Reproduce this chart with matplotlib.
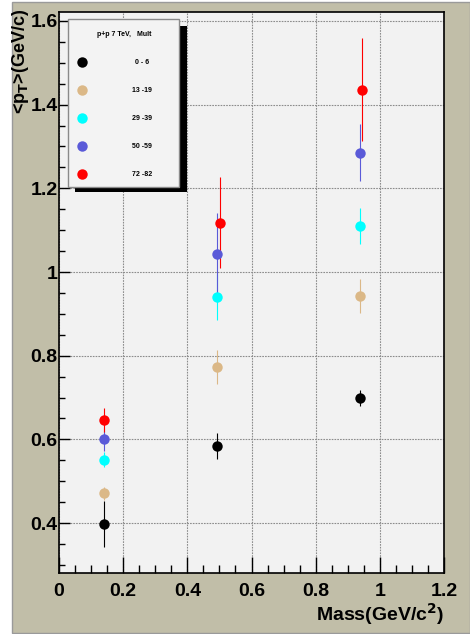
import matplotlib
matplotlib.use('Agg')
import matplotlib.pyplot as plt
from matplotlib.patches import Rectangle
from matplotlib.ticker import MultipleLocator

plt.rcParams['font.family'] = ['Liberation Sans', 'DejaVu Sans']
plt.rcParams['font.weight'] = 'bold'
plt.rcParams['mathtext.default'] = 'bf'

# Masses of pi, K, p (GeV/c^2); highest multiplicity class is drawn slightly shifted
masa = [0.1396, 0.4937, 0.9383]
masa_red = [0.1396, 0.503, 0.943]

clases = ['0 - 6', '13 -19', '29 -39', '50 -59', '72 -82']
colores = ['#000000', '#dbb887', '#00ffff', '#5a5ad8', '#ff0000']

pt_0_6 = [0.398, 0.584, 0.699]
err_0_6 = [0.055, 0.030, 0.019]
pt_13_19 = [0.471, 0.773, 0.943]
err_13_19 = [0.015, 0.040, 0.041]
pt_29_39 = [0.551, 0.940, 1.110]
err_29_39 = [0.018, 0.055, 0.043]
pt_50_59 = [0.600, 1.043, 1.285]
err_50_59 = [0.028, 0.098, 0.068]
pt_72_82 = [0.646, 1.118, 1.436]
err_72_82 = [0.028, 0.108, 0.124]

series = [
    (masa, pt_0_6, err_0_6),
    (masa, pt_13_19, err_13_19),
    (masa, pt_29_39, err_29_39),
    (masa, pt_50_59, err_50_59),
    (masa_red, pt_72_82, err_72_82),
]

W, H = 470, 634
fig = plt.figure(figsize=(W / 100, H / 100), dpi=100, facecolor='white')


def px(x, y):
    # pixel coords (from top-left) -> figure fraction
    return x / W, 1 - y / H


# tan canvas background
fig.patches.append(Rectangle(px(12, 633), (W - 12) / W, 631 / H, transform=fig.transFigure,
                             facecolor='#c1bea8', edgecolor='#9a9a9a', lw=1, zorder=-5))

ax = fig.add_axes([59 / W, 1 - 573 / H, 385 / W, 561 / H])
ax.set_facecolor('#f2f2f2')

for (xs, ys, es), c in zip(series, colores):
    ax.errorbar(xs, ys, yerr=es, fmt='o', color=c, ecolor=c, ms=7.5, mew=0,
                elinewidth=0.8, capsize=2.5, capthick=0.8)

ax.set_xlim(0, 1.2)
ax.set_ylim(0.2805, 1.6215)
ax.xaxis.set_minor_locator(MultipleLocator(0.05))
ax.yaxis.set_minor_locator(MultipleLocator(0.05))
ax.set_xticks([0, 0.2, 0.4, 0.6, 0.8, 1.0, 1.2])
ax.set_xticklabels(['0', '0.2', '0.4', '0.6', '0.8', '1', '1.2'])
ax.set_yticks([0.4, 0.6, 0.8, 1.0, 1.2, 1.4, 1.6])
ax.set_yticklabels(['0.4', '0.6', '0.8', '1', '1.2', '1.4', '1.6'])

ax.tick_params(axis='x', which='major', direction='in', length=11.5, width=1, pad=7, labelsize=14)
ax.tick_params(axis='x', which='minor', direction='in', length=6, width=1)
ax.tick_params(axis='y', which='major', direction='in', length=8, width=1, pad=1, labelsize=14)
ax.tick_params(axis='y', which='minor', direction='in', length=4, width=1)
ax.grid(True, which='major', color='#8c8c8c', linestyle=(0, (1.5, 1)), lw=0.8)
ax.set_axisbelow(True)
for s in ax.spines.values():
    s.set_color('black')
    s.set_linewidth(1.2)

fig.text(*px(444, 614), r'Mass(GeV/c$^{2}$)', ha='right', va='center', fontsize=14, fontweight='bold')
fig.text(*px(21, 9), r'<p$_{T}$>(GeV/c)', ha='center', va='top', rotation=90,
         fontsize=13, fontweight='bold')

# legend box with shadow
fig.patches.append(Rectangle(px(75, 192), 112 / W, 166 / H, transform=fig.transFigure,
                             facecolor='black', edgecolor='none', zorder=4))
fig.patches.append(Rectangle(px(68, 187), 111 / W, 168 / H, transform=fig.transFigure,
                             facecolor='#f3f3f3', edgecolor='#8a8a8a', lw=1, zorder=5))
fig.text(*px(124, 34), 'p+p 7 TeV,   Mult', ha='center', va='center', fontsize=5,
         fontweight='bold', zorder=6)
for i, (lab, c) in enumerate(zip(clases, colores)):
    y = 62 + 28 * i
    fig.lines.append(plt.Line2D([82 / W], [1 - y / H], transform=fig.transFigure, marker='o',
                                ms=7.5, mew=0, color=c, zorder=6))
    fig.text(*px(142, y), lab, ha='center', va='center', fontsize=5, fontweight='bold', zorder=6)

fig.savefig('out.png', dpi=100, facecolor='white')
